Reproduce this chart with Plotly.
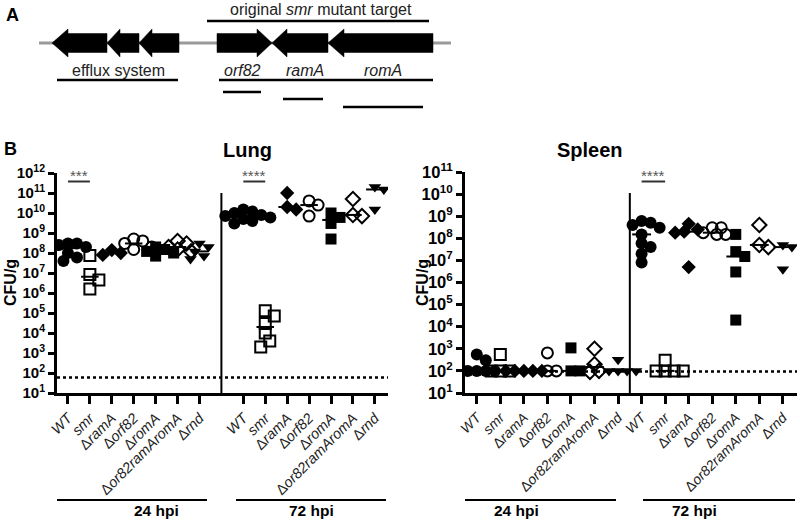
import numpy as np
import plotly.graph_objects as go

FONT = "Liberation Sans, Arial, sans-serif"
W, H = 800, 524

# ---------------- data ----------------
strains = ["WT", "smr", "ΔramA", "Δorf82", "ΔromA", "Δor82ramAromA", "Δrnd"]
tick_labels = ["<i>WT</i>", "<i>smr</i>", "Δ<i>ramA</i>", "Δ<i>orf82</i>", "Δ<i>romA</i>",
               "Δ<i>or82ramAromA</i>", "Δ<i>rnd</i>"]
symbols = ["circle", "square-open", "diamond", "circle-open", "square", "diamond-open", "triangle-down"]
lung_decades = list(range(1, 13))
spleen_decades = list(range(1, 12))

lung_24 = [
    [3e8, 3e8, 2.5e8, 2e8, 1.5e8, 1e8, 6e7, 4e7],
    [7.5e7, 8.5e6, 4.5e6, 1.6e6],
    [1.4e8, 1e8, 8e7],
    [5e8, 4e8, 3e8, 2e8, 1.5e8],
    [2e8, 1.5e8, 1.2e8, 1e8, 7e7],
    [4e8, 3e8, 2e8, 1.5e8, 1.2e8],
    [3e8, 2e8, 1.2e8, 7e7, 5e7],
]
lung_72 = [
    [1.5e10, 1.2e10, 1e10, 8e9, 6e9, 5e9, 4e9, 3e9, 7e9],
    [1.3e5, 7e4, 3e4, 1e4, 4e3, 2e3],
    [1e11, 2e10, 1.5e10],
    [4e10, 2.5e10, 7e9],
    [1e10, 6e9, 3e9, 5e8],
    [5e10, 8e9, 7e9],
    [2e11, 1.5e11, 1.5e10],
]
spleen_24 = [
    [550, 300, 100, 100, 100, 100],
    [550, 100, 100, 100],
    [100, 100, 100, 100, 100],
    [650, 100, 100],
    [1100, 100, 100],
    [1000, 200, 100, 90],
    [320, 100, 100, 100, 100],
]
spleen_72 = [
    [6e8, 5e8, 4e8, 3e8, 1.5e8, 6e7, 4e7, 2e7, 8e6],
    [300, 100, 100, 100, 100],
    [4.5e8, 2.5e8, 2e8, 1.8e8, 5e6],
    [3e8, 3e8, 1.8e8, 1.5e8, 1.5e8],
    [1.5e8, 2.5e7, 1.5e7, 3e6, 2e4],
    [4e8, 5e7, 4e7],
    [5e7, 4e7, 4e6],
]
lung_lod = 60
spleen_lod = 95
sig_lung = ["***", "****"]
sig_spleen = "****"

lung_xrange = [-0.5, 14.6]
spleen_xrange = [-0.5, 13.6]

# ---------------- helpers ----------------
def swarm(vals, ppd, ppu, d=8.0, step=4.5):
    ys = np.log10(np.asarray(vals, float)) * ppd
    placed = []
    order = np.argsort(-ys)
    res = [0.0] * len(ys)
    for i in order:
        y = ys[i]
        k = 0
        while True:
            cand = [0] if k == 0 else [k, -k]
            done = False
            for c in cand:
                x = c * step
                if all((x - px) ** 2 + (y - py_) ** 2 >= d * d for px, py_ in placed):
                    placed.append((x, y))
                    res[i] = x / ppu
                    done = True
                    break
            if done:
                break
            k += 1
    return res

fig = go.Figure()

def add_group(groups, start, xa, ya, ppd, ppu):
    for j, vals in enumerate(groups):
        pos = start + j
        offs = swarm(vals, ppd, ppu)
        sym = symbols[j]
        is_open = sym.endswith("open")
        fig.add_trace(go.Scatter(
            x=[pos + o for o in offs], y=vals, mode="markers",
            xaxis=xa, yaxis=ya, showlegend=False, hoverinfo="skip",
            marker=dict(symbol=sym, size=11 if sym != "circle" else 12,
                        color="black", line=dict(color="black", width=2 if is_open else 0)),
        ))
        med = float(np.median(vals))
        fig.add_trace(go.Scatter(
            x=[pos - 0.4, pos + 0.4], y=[med, med], mode="lines",
            xaxis=xa, yaxis=ya, showlegend=False, hoverinfo="skip",
            line=dict(color="black", width=2),
        ))

# LOD dotted lines
fig.add_trace(go.Scatter(x=lung_xrange, y=[lung_lod, lung_lod], mode="lines", xaxis="x", yaxis="y",
                         showlegend=False, hoverinfo="skip",
                         line=dict(color="black", width=2.5, dash="dot")))
fig.add_trace(go.Scatter(x=spleen_xrange, y=[spleen_lod, spleen_lod], mode="lines", xaxis="x2", yaxis="y2",
                         showlegend=False, hoverinfo="skip",
                         line=dict(color="black", width=2.5, dash="dot")))

lung_ppd, lung_ppu = 19.95, 21.9
spl_ppd, spl_ppu = 22.16, 23.5
add_group(lung_24, 0, "x", "y", lung_ppd, lung_ppu)
add_group(lung_72, 8, "x", "y", lung_ppd, lung_ppu)
add_group(spleen_24, 0, "x2", "y2", spl_ppd, spl_ppu)
add_group(spleen_72, 7, "x2", "y2", spl_ppd, spl_ppu)

def py(ypix):
    return 1 - ypix / H

def pxx(xpix):
    return xpix / W

axis_common = dict(showline=True, linecolor="black", linewidth=3, ticks="outside",
                   tickcolor="black", showgrid=False, zeroline=False)

fig.update_layout(
    width=W, height=H, margin=dict(l=0, r=0, t=0, b=0, autoexpand=False),
    paper_bgcolor="white", plot_bgcolor="white",
    font=dict(family=FONT, color="black"),
    xaxis=dict(domain=[pxx(57), pxx(388)], range=lung_xrange,
               tickvals=list(range(0, 7)) + list(range(8, 15)),
               ticktext=tick_labels + tick_labels, tickangle=-45,
               ticklen=8, tickwidth=3, anchor="y",
               tickfont=dict(size=14.5, family=FONT, color="#222"), **axis_common),
    yaxis=dict(domain=[py(393), py(173)], type="log", range=[1, 12],
               tickvals=[10 ** k for k in lung_decades],
               ticktext=[f"10<sup>{k}</sup>" for k in lung_decades],
               ticklen=6, tickwidth=2.5, anchor="x",
               tickfont=dict(size=15, family=FONT, weight="bold"), **axis_common),
    xaxis2=dict(domain=[pxx(465), pxx(797)], range=spleen_xrange,
                tickvals=list(range(0, 14)),
                ticktext=tick_labels + tick_labels, tickangle=-45,
                ticklen=8, tickwidth=3, anchor="y2",
                tickfont=dict(size=14, family=FONT, color="#222"), **axis_common),
    yaxis2=dict(domain=[py(393), py(172)], type="log", range=[1, 11],
                tickvals=[10 ** k for k in spleen_decades],
                ticktext=[f"10<sup>{k}</sup>" for k in spleen_decades],
                ticklen=6, tickwidth=2.5, anchor="x2",
                tickfont=dict(size=16.5, family=FONT, weight="bold"), **axis_common),
)

shapes = []
ann = []

# dividers
shapes.append(dict(type="line", xref="x", yref="paper", x0=7, x1=7, y0=py(393), y1=py(193),
                   line=dict(color="black", width=2)))
shapes.append(dict(type="line", xref="x2", yref="paper", x0=6.5, x1=6.5, y0=py(393), y1=py(193),
                   line=dict(color="black", width=2)))

# significance bars
for xa, x0, x1, txt in [("x", 0, 1, sig_lung[0]), ("x", 8, 9, sig_lung[1]), ("x2", 7, 8, sig_spleen)]:
    shapes.append(dict(type="line", xref=xa, yref="paper", x0=x0, x1=x1, y0=py(181.5), y1=py(181.5),
                       line=dict(color="#333", width=2)))
    ann.append(dict(xref=xa, yref="paper", x=(x0 + x1) / 2, y=py(175), text=txt, showarrow=False,
                    font=dict(size=15, color="#555"), yanchor="middle"))

# group labels
for x0, x1, txt in [(57, 207, "24 hpi"), (236, 386, "72 hpi"), (465, 616, "24 hpi"), (643, 795, "72 hpi")]:
    shapes.append(dict(type="line", xref="paper", yref="paper", x0=pxx(x0), x1=pxx(x1),
                       y0=py(500), y1=py(500), line=dict(color="black", width=2)))
    ann.append(dict(xref="paper", yref="paper", x=pxx((x0 + x1) / 2), y=py(510.5), text="<b>" + txt + "</b>",
                    showarrow=False, font=dict(size=15.5), yanchor="middle"))

# titles / axis titles / panel letters
ann += [
    dict(xref="paper", yref="paper", x=pxx(221), y=py(150), text="<b>Lung</b>", showarrow=False,
         font=dict(size=20), yanchor="middle"),
    dict(xref="paper", yref="paper", x=pxx(625), y=py(150), text="<b>Spleen</b>", showarrow=False,
         font=dict(size=20), yanchor="middle"),
    dict(xref="paper", yref="paper", x=pxx(10), y=py(283), text="<b>CFU/g</b>", showarrow=False,
         textangle=-90, font=dict(size=16), xanchor="center", yanchor="middle"),
    dict(xref="paper", yref="paper", x=pxx(422), y=py(283), text="<b>CFU/g</b>", showarrow=False,
         textangle=-90, font=dict(size=16), xanchor="center", yanchor="middle"),
    dict(xref="paper", yref="paper", x=pxx(12), y=py(15), text="<b>A</b>", showarrow=False,
         font=dict(size=18), xanchor="center", yanchor="middle"),
    dict(xref="paper", yref="paper", x=pxx(10), y=py(149), text="<b>B</b>", showarrow=False,
         font=dict(size=18), xanchor="center", yanchor="middle"),
]

# ---------------- panel A (gene diagram) ----------------
cy, hh, bh = 43, 14, 9.5

def P(x, y):
    return f"{pxx(x):.5f},{py(y):.5f}"

def arrow(tip, base, end):
    pts = [(tip, cy), (base, cy - hh), (base, cy - bh), (end, cy - bh),
           (end, cy + bh), (base, cy + bh), (base, cy + hh)]
    return "M " + " L ".join(P(a, b) for a, b in pts) + " Z"

shapes.append(dict(type="line", xref="paper", yref="paper", x0=pxx(39), x1=pxx(451), y0=py(cy), y1=py(cy),
                   line=dict(color="#9a9a9a", width=3)))
for tip, base, end in [(52, 68, 107), (107, 120, 139), (139, 152, 179),
                       (272, 257, 217), (272, 287, 328), (328, 344, 433)]:
    shapes.append(dict(type="path", xref="paper", yref="paper", path=arrow(tip, base, end),
                       fillcolor="black", line=dict(color="black", width=0.5)))

for x0, x1, y in [(207, 429, 21), (57, 178, 80), (219, 433, 80), (223, 261, 92), (283, 323, 99), (343, 423, 107)]:
    shapes.append(dict(type="line", xref="paper", yref="paper", x0=pxx(x0), x1=pxx(x1), y0=py(y), y1=py(y),
                       line=dict(color="black", width=2.5)))

for x, y, t in [(321, 10, "original <i>smr</i> mutant target"), (118, 70, "efflux system"),
                (242, 70, "<i>orf82</i>"), (305, 70, "<i>ramA</i>"), (383, 70, "<i>romA</i>")]:
    ann.append(dict(xref="paper", yref="paper", x=pxx(x), y=py(y), text=t, showarrow=False,
                    font=dict(size=16, color="#222"), xanchor="center", yanchor="middle"))

fig.update_layout(shapes=shapes, annotations=ann)
fig.write_html("out.html", config=dict(displayModeBar=False),
               post_script="document.body.style.margin='0px';document.body.style.overflow='hidden';")
